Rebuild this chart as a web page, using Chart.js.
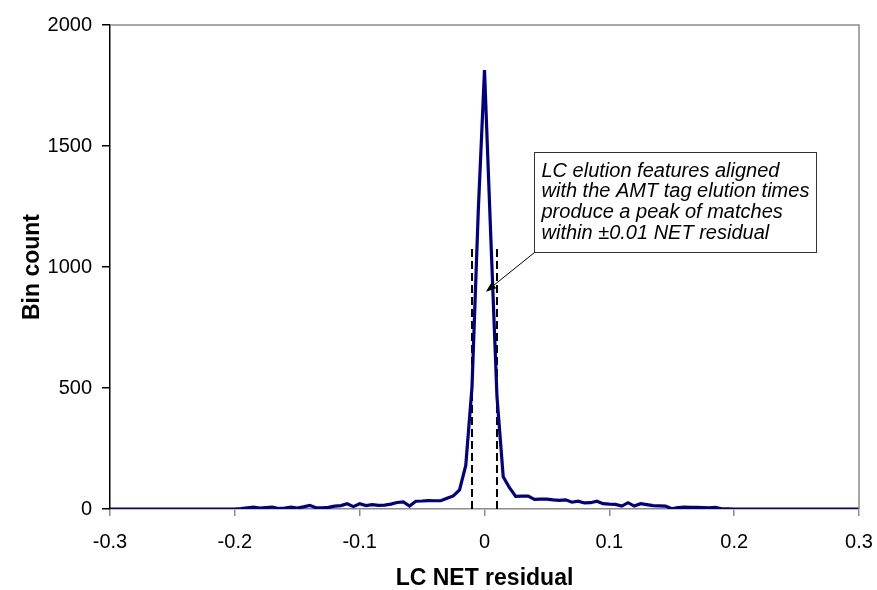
<!DOCTYPE html>
<html>
<head>
<meta charset="utf-8">
<script src="https://cdn.jsdelivr.net/npm/chart.js@4"></script>
<style>
  html, body { margin: 0; padding: 0; background: #fff; }
  #wrap { width: 877px; height: 590px; }
</style>
</head>
<body>
<div id="wrap"><canvas id="chart" width="877" height="590"></canvas></div>
<script>
'use strict';

// histogram of LC NET residuals, bins of 0.005 from -0.3 to 0.3
const binStart = -0.3;
const binWidth = 0.005;
const binCounts = [
    0, 0, 0, 0, 0, 0, 0, 0, 0, 0, 0, 0, 0, 0, 0, 0, 0, 0, 0, 0,
    0, 2, 5, 8, 4, 6, 8, 2, 4, 8, 4, 9, 15, 5, 5, 7, 12, 14, 22, 10,
    22, 14, 18, 15, 16, 20, 27, 29, 12, 32, 33, 35, 34, 34, 44, 54, 79, 180, 505, 1230,
    1814,
    1130, 464, 133, 88, 52, 53, 53, 40, 41, 41, 38, 36, 38, 28, 32, 25, 26, 32, 22, 20,
    19, 12, 26, 12, 22, 18, 14, 13, 12, 1, 6, 8, 7, 7, 6, 5, 7, 1, 1, 0,
    0, 0, 0, 0, 0, 0, 0, 0, 0, 0, 0, 0, 0, 0, 0, 0, 0, 0, 0, 0
];

// dashed window marking +-0.01 NET
const windowEdges = [-0.01, 0.01];
const windowHeight = 1090;

const noteLines = [
    'LC elution features aligned',
    'with the AMT tag elution times',
    'produce a peak of matches',
    'within \u00b10.01 NET residual'
];
const noteAnchor = { x: 0.0398, y: 1476 };   // top-left of the box, data units
const arrowTip = { x: 0.0011, y: 898 };

const FONT = '"Liberation Sans", Arial, sans-serif';

const points = binCounts.map((c, i) => ({ x: binStart + i * binWidth, y: c }));

const windowSets = windowEdges.map(e => ({
    data: [{ x: e, y: 0 }, { x: e, y: windowHeight }],
    borderColor: '#000',
    borderWidth: 2,
    borderDash: [8, 4],
    pointRadius: 0,
    fill: false
}));

const notePlugin = {
    id: 'note',
    afterDraw(chart) {
        const { ctx, chartArea, scales } = chart;
        ctx.save();

        // plot frame, top and right
        ctx.strokeStyle = '#8c8c8c';
        ctx.lineWidth = 1.5;
        ctx.beginPath();
        ctx.moveTo(chartArea.left, chartArea.top);
        ctx.lineTo(chartArea.right, chartArea.top);
        ctx.lineTo(chartArea.right, chartArea.bottom);
        ctx.stroke();

        // text box
        const bx = Math.round(scales.x.getPixelForValue(noteAnchor.x)) + 0.5;
        const by = Math.round(scales.y.getPixelForValue(noteAnchor.y)) + 0.5;
        const bw = 282, bh = 100;
        ctx.fillStyle = '#fff';
        ctx.fillRect(bx, by, bw, bh);
        ctx.strokeStyle = '#333';
        ctx.lineWidth = 1;
        ctx.strokeRect(bx, by, bw, bh);

        ctx.fillStyle = '#000';
        ctx.font = 'italic 20px ' + FONT;
        ctx.textBaseline = 'alphabetic';
        ctx.textAlign = 'left';
        noteLines.forEach((t, i) => ctx.fillText(t, bx + 7, by + 24 + i * 20.7));

        // arrow
        const tx = scales.x.getPixelForValue(arrowTip.x);
        const ty = scales.y.getPixelForValue(arrowTip.y);
        const sx = bx, sy = by + bh;
        const ang = Math.atan2(ty - sy, tx - sx);
        ctx.strokeStyle = '#000';
        ctx.lineWidth = 1;
        ctx.beginPath();
        ctx.moveTo(sx, sy);
        ctx.lineTo(tx - 6 * Math.cos(ang), ty - 6 * Math.sin(ang));
        ctx.stroke();
        ctx.beginPath();
        ctx.moveTo(tx, ty);
        ctx.lineTo(tx - 11 * Math.cos(ang - 0.35), ty - 11 * Math.sin(ang - 0.35));
        ctx.lineTo(tx - 11 * Math.cos(ang + 0.35), ty - 11 * Math.sin(ang + 0.35));
        ctx.closePath();
        ctx.fill();

        ctx.restore();
    }
};

new Chart(document.getElementById('chart'), {
    type: 'line',
    data: {
        datasets: [{
            data: points,
            borderColor: '#000080',
            borderWidth: 3.2,
            pointRadius: 0,
            tension: 0,
            fill: false
        }, ...windowSets]
    },
    options: {
        responsive: false,
        animation: false,
        layout: { padding: { left: 0, right: 18, top: 25, bottom: 0 } },
        plugins: { legend: { display: false }, tooltip: { enabled: false } },
        scales: {
            x: {
                type: 'linear',
                min: -0.3,
                max: 0.3,
                afterFit(scale) {
                    scale.height = 81;
                    scale.paddingLeft = 0;
                    scale.paddingRight = 0;
                },
                ticks: {
                    stepSize: 0.1,
                    padding: 14,
                    color: '#000',
                    font: { family: FONT, size: 20 },
                    callback: v => String(Number(v.toFixed(1)))
                },
                grid: {
                    drawOnChartArea: false,
                    tickLength: 7,
                    color: '#8c8c8c',
                    lineWidth: 1.5
                },
                border: { color: '#8c8c8c', width: 1.5 },
                title: {
                    display: true,
                    text: 'LC NET residual',
                    color: '#000',
                    font: { family: FONT, size: 23, weight: 'bold', lineHeight: 1 },
                    padding: { top: 0, bottom: 0 }
                }
            },
            y: {
                min: 0,
                max: 2000,
                afterFit(scale) { scale.width = 110; },
                ticks: {
                    stepSize: 500,
                    padding: 10,
                    color: '#000',
                    font: { family: FONT, size: 20 },
                    callback: v => String(v)
                },
                grid: {
                    drawOnChartArea: false,
                    tickLength: 8,
                    color: '#000',
                    lineWidth: 1.5
                },
                border: { color: '#000', width: 1.5 },
                title: {
                    display: true,
                    text: 'Bin count',
                    color: '#000',
                    font: { family: FONT, size: 23, weight: 'bold', lineHeight: 1 },
                    padding: { top: 21, bottom: 0 }
                }
            }
        }
    },
    plugins: [notePlugin]
});
</script>
</body>
</html>
